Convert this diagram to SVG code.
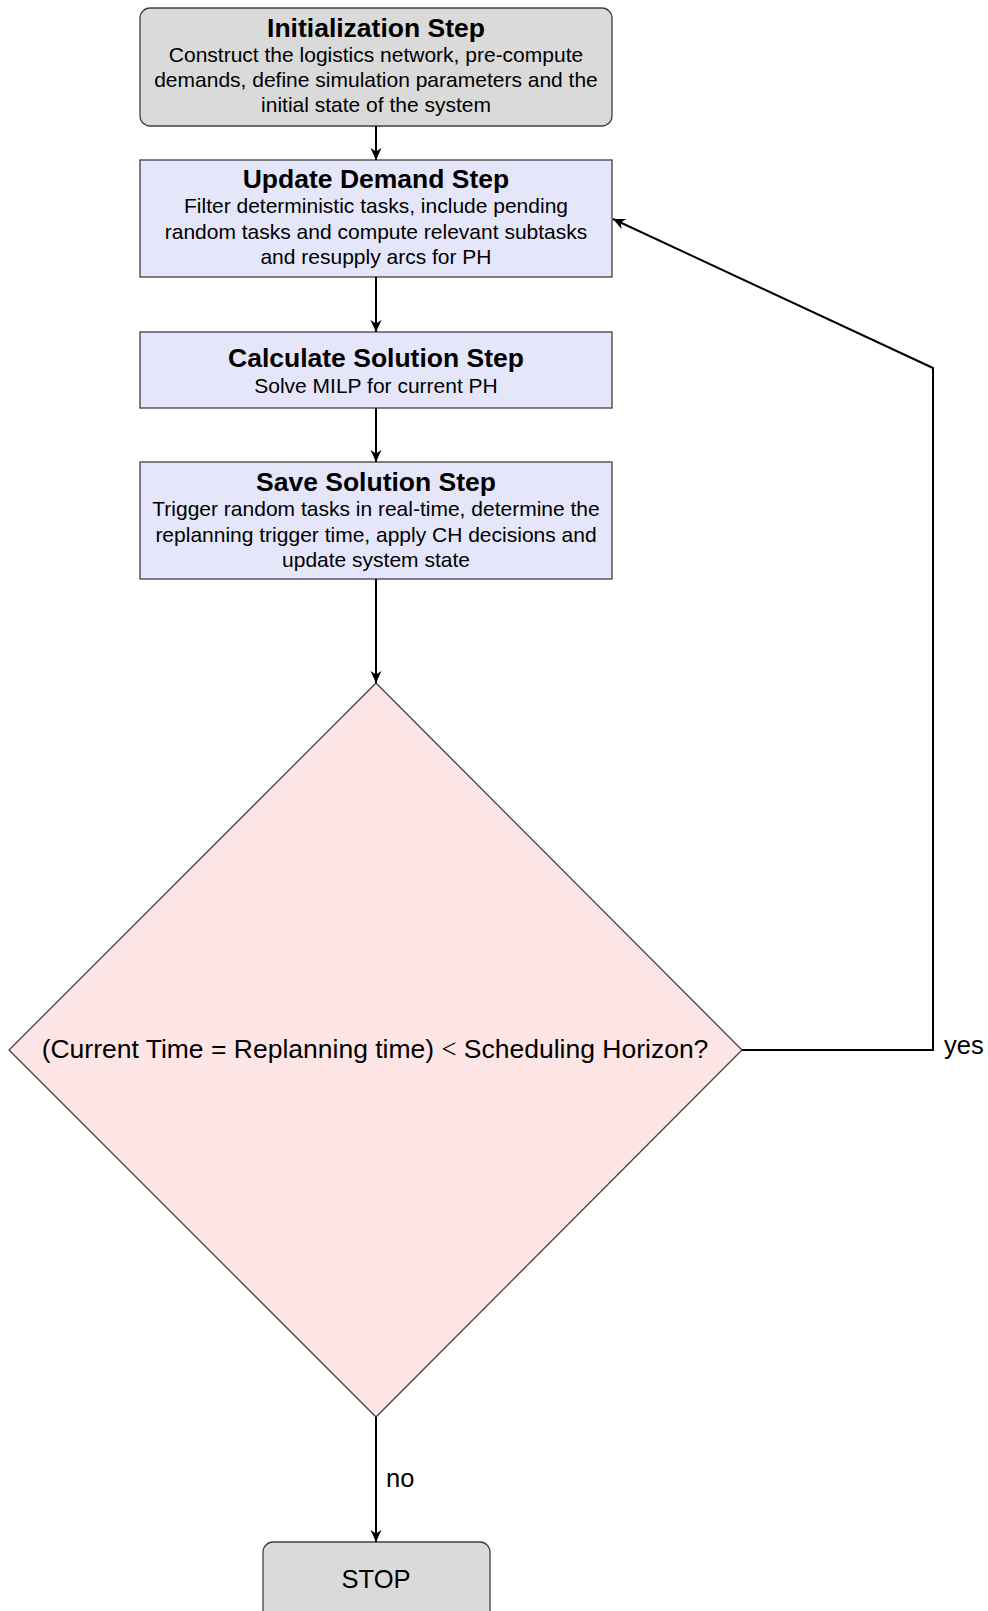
<svg xmlns="http://www.w3.org/2000/svg" width="988" height="1611" viewBox="0 0 988 1611">
<style>
  .box { stroke: #404040; stroke-width: 1.3; }
  .grey { fill: #dadada; }
  .blue { fill: #e6e6fb; }
  .pink { fill: #fde5e5; }
  .title { font-family: "Liberation Sans", Arial, sans-serif; font-weight: bold; font-size: 26.5px; fill: #000; text-anchor: middle; }
  .body { font-family: "Liberation Sans", Arial, sans-serif; font-size: 21px; fill: #000; text-anchor: middle; }
  .lbl { font-family: "Liberation Sans", Arial, sans-serif; font-size: 25.5px; fill: #000; }
  .dtxt { font-family: "Liberation Sans", Arial, sans-serif; font-size: 26.5px; fill: #000; }
  .conn { fill: none; stroke: #000; stroke-width: 2; }
</style>
<defs>
  <marker id="arr" markerUnits="userSpaceOnUse" markerWidth="13" markerHeight="13" viewBox="0 0 13 13" refX="12" refY="6.5" orient="auto">
    <path d="M0,1 L12,6.5 L0,12 L3.5,6.5 Z" fill="#000"/>
  </marker>
</defs>
<rect width="988" height="1611" fill="#fff"/>

<g id="init">
  <rect class="box grey" x="140" y="8" width="472" height="118" rx="10" ry="10"/>
  <text class="title" x="376" y="37">Initialization Step</text>
  <text class="body" x="376" y="62">Construct the logistics network, pre-compute</text>
  <text class="body" x="376" y="87">demands, define simulation parameters and the</text>
  <text class="body" x="376" y="112">initial state of the system</text>
</g>

<g id="update">
  <rect class="box blue" x="140" y="160" width="472" height="117"/>
  <text class="title" x="376" y="188">Update Demand Step</text>
  <text class="body" x="376" y="213">Filter deterministic tasks, include pending</text>
  <text class="body" x="376" y="239">random tasks and compute relevant subtasks</text>
  <text class="body" x="376" y="264">and resupply arcs for PH</text>
</g>

<g id="calc">
  <rect class="box blue" x="140" y="332" width="472" height="76"/>
  <text class="title" x="376" y="367">Calculate Solution Step</text>
  <text class="body" x="376" y="393">Solve MILP for current PH</text>
</g>

<g id="save">
  <rect class="box blue" x="140" y="462" width="472" height="117"/>
  <text class="title" x="376" y="491">Save Solution Step</text>
  <text class="body" x="376" y="516">Trigger random tasks in real-time, determine the</text>
  <text class="body" x="376" y="542">replanning trigger time, apply CH decisions and</text>
  <text class="body" x="376" y="567">update system state</text>
</g>

<g id="decision">
  <polygon class="box pink" points="376,683 742,1050 376,1417 9,1050"/>
  <text class="dtxt" x="375" y="1058" text-anchor="middle">(Current Time = Replanning time) <tspan style="font-family: 'Liberation Serif', 'Times New Roman', serif;">&lt;</tspan> Scheduling Horizon?</text>
</g>

<g id="stop">
  <rect class="box grey" x="263" y="1542" width="227" height="80" rx="10" ry="10"/>
  <text class="lbl" x="376" y="1588" text-anchor="middle">STOP</text>
</g>

<g id="connectors">
  <line class="conn" x1="376" y1="126" x2="376" y2="160" marker-end="url(#arr)"/>
  <line class="conn" x1="376" y1="277" x2="376" y2="332" marker-end="url(#arr)"/>
  <line class="conn" x1="376" y1="408" x2="376" y2="462" marker-end="url(#arr)"/>
  <line class="conn" x1="376" y1="579" x2="376" y2="683" marker-end="url(#arr)"/>
  <line class="conn" x1="376" y1="1417" x2="376" y2="1542" marker-end="url(#arr)"/>
  <polyline class="conn" points="742,1050 933,1050 933,368 613,219" marker-end="url(#arr)"/>
  <text class="lbl" x="386" y="1487">no</text>
  <text class="lbl" x="944" y="1054">yes</text>
</g>
</svg>
